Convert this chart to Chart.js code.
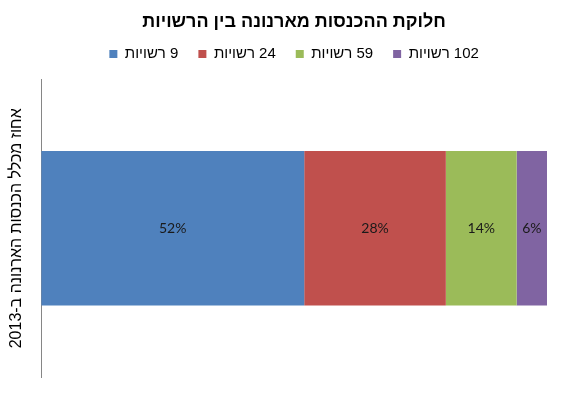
<!DOCTYPE html>
<html>
<head>
<meta charset="utf-8">
<script src="https://cdn.jsdelivr.net/npm/chart.js@4"></script>
<style>
html,body{margin:0;padding:0;background:#fff;}
#wrap{width:567px;height:399px;}
canvas{direction:rtl;}
</style>
</head>
<body>
<div id="wrap"><canvas id="c" dir="rtl"></canvas></div>
<script>
const categories = ['2013'];
const seriesNames = ['9 רשויות', '24 רשויות', '59 רשויות', '102 רשויות'];
const seriesValues = [[52], [28], [14], [6]];
const seriesColors = ['#4F81BD', '#C0504D', '#9BBB59', '#8064A2'];
const titleText = 'חלוקת ההכנסות מארנונה בין הרשויות';
const yAxisTitle = 'אחוז מכלל הכנסות הארנונה ב-2013';

const labelPlugin = {
  id: 'barLabels',
  afterDatasetsDraw(chart) {
    const ctx = chart.ctx;
    ctx.save();
    ctx.font = '14px Lato, "Open Sans", sans-serif';
    ctx.fillStyle = '#1a1a1a';
    ctx.textAlign = 'center';
    ctx.textBaseline = 'middle';
    ctx.direction = 'ltr';
    chart.data.datasets.forEach((ds, i) => {
      const meta = chart.getDatasetMeta(i);
      meta.data.forEach((el, j) => {
        const p = el.getCenterPoint();
        ctx.fillText(ds.data[j] + '%', p.x, p.y);
      });
    });
    ctx.restore();
  }
};

new Chart(document.getElementById('c'), {
  type: 'bar',
  data: {
    labels: categories,
    datasets: seriesNames.map((n, i) => ({
      label: n,
      data: seriesValues[i],
      backgroundColor: seriesColors[i],
      borderWidth: 0,
      categoryPercentage: 1,
      barPercentage: 0.52
    }))
  },
  options: {
    indexAxis: 'y',
    responsive: true,
    maintainAspectRatio: false,
    animation: false,
    layout: { padding: { left: 4, right: 20, top: 0, bottom: 22 } },
    plugins: {
      title: {
        display: true,
        text: titleText,
        fullSize: false,
        color: '#000',
        font: { family: '"Liberation Sans", "DejaVu Sans", sans-serif', size: 18, weight: 'bold' },
        padding: { top: 11, bottom: -6 }
      },
      subtitle: {
        display: true,
        text: ' ',
        fullSize: false,
        weight: 500,
        font: { size: 1, lineHeight: 1 },
        padding: { top: 0, bottom: 7 }
      },
      legend: {
        display: true,
        fullSize: false,
        rtl: false,
        textDirection: 'rtl',
        labels: {
          color: '#000',
          boxWidth: 8,
          boxHeight: 8,
          padding: 20,
          font: { family: '"Liberation Sans", "DejaVu Sans", sans-serif', size: 15 }
        }
      },
      tooltip: { enabled: false }
    },
    scales: {
      x: {
        stacked: true,
        display: false,
        min: 0,
        max: 100
      },
      y: {
        stacked: true,
        ticks: { display: false },
        grid: { display: false, drawTicks: false },
        border: { display: true, color: '#868686', width: 1 },
        title: {
          display: true,
          text: yAxisTitle,
          color: '#000',
          font: { family: '"Liberation Sans", "DejaVu Sans", sans-serif', size: 16 },
          padding: { top: 3, bottom: 15 }
        }
      }
    }
  },
  plugins: [labelPlugin]
});
</script>
</body>
</html>
